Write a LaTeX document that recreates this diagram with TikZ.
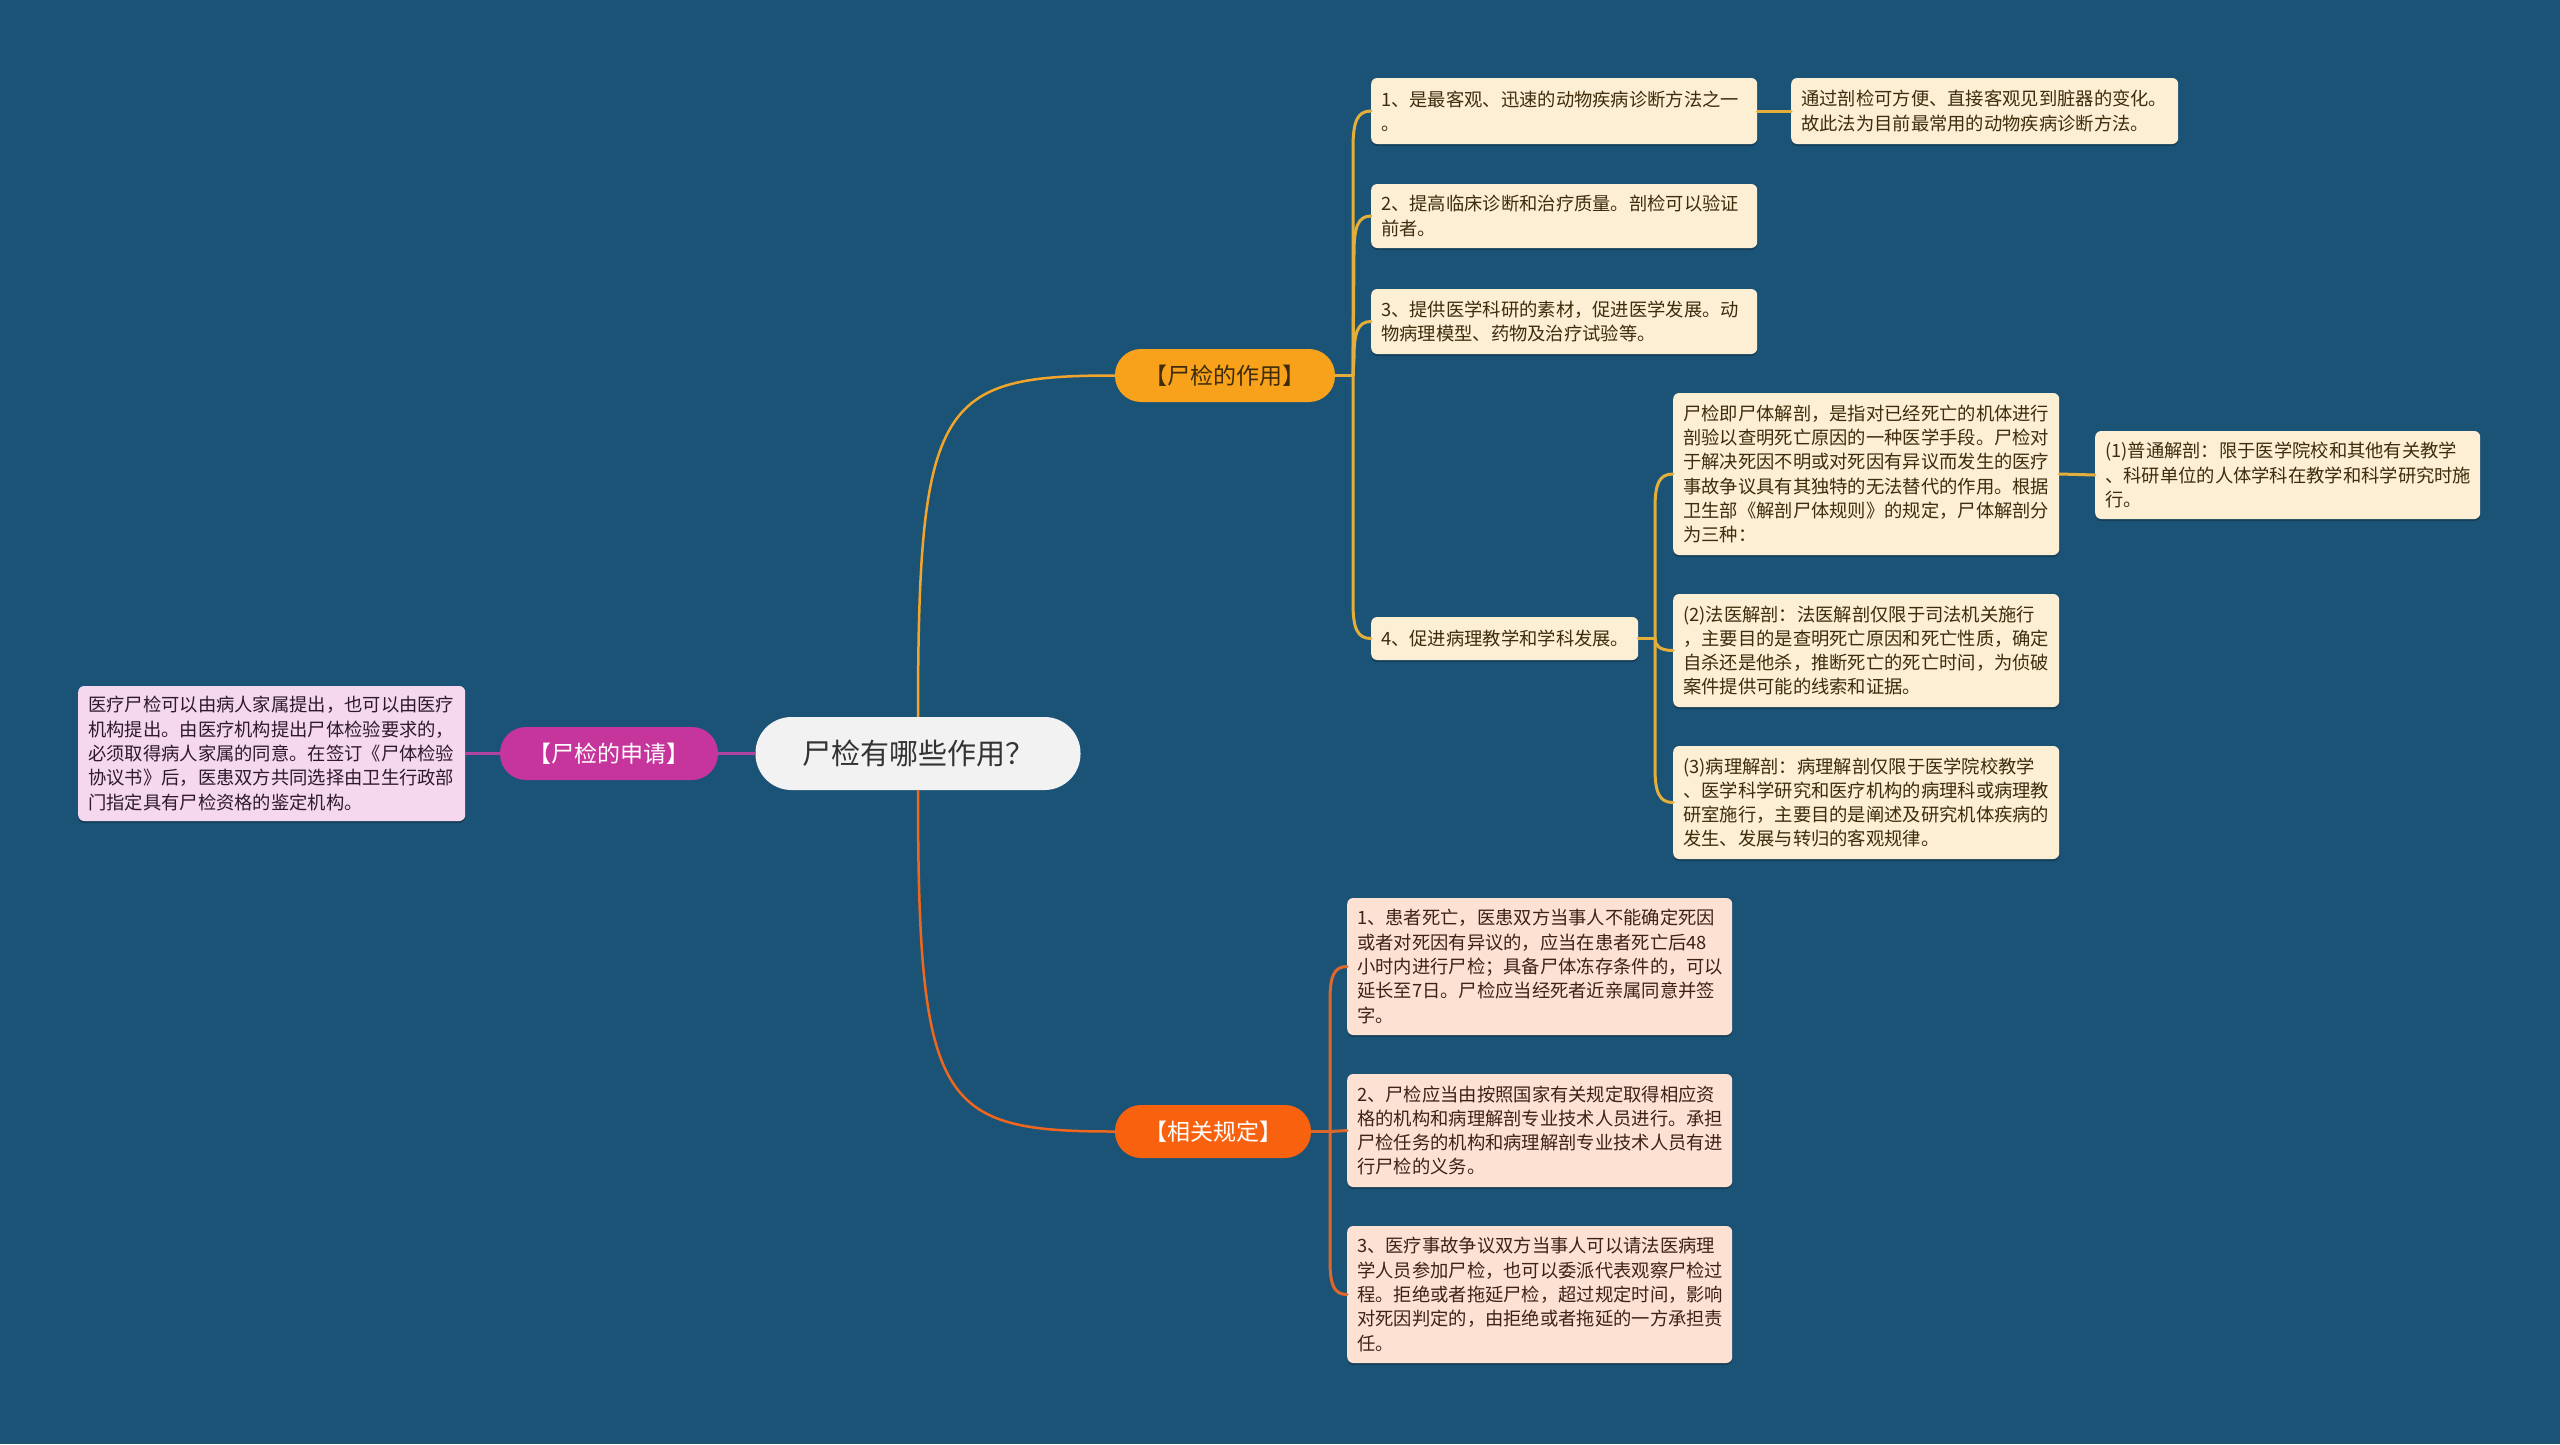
\documentclass[tikz,border=0pt]{standalone}
\usepackage{fontspec}
\setmainfont{Noto Sans CJK SC}
\usetikzlibrary{shadows}
\definecolor{bgc}{HTML}{1B5377}
\definecolor{cnode}{HTML}{F2F2F2}
\definecolor{ctext}{HTML}{333333}
\definecolor{magn}{HTML}{C6359B}
\definecolor{magline}{HTML}{B0439E}
\definecolor{pinkbox}{HTML}{F5D8EE}
\definecolor{pinktext}{HTML}{2E1A2C}
\definecolor{ylwn}{HTML}{F8A21C}
\definecolor{ylwline}{HTML}{E3AF3A}
\definecolor{ylwmain}{HTML}{F2A52A}
\definecolor{cream}{HTML}{FDEFD3}
\definecolor{creamtext}{HTML}{3E2C0C}
\definecolor{orn}{HTML}{F8620F}
\definecolor{ornline}{HTML}{DE672C}
\definecolor{ornmain}{HTML}{F0661C}
\definecolor{peach}{HTML}{FDE1D3}
\definecolor{peachtext}{HTML}{3E2216}
\tikzset{
  boxfont/.style={font=\fontsize{18.3}{24.3}\selectfont},
  cbox/.style={boxfont, rounded corners=6pt, anchor=west, inner xsep=10pt, inner ysep=0pt, align=left,
     drop shadow={shadow xshift=0pt, shadow yshift=-2pt, fill=black, opacity=0.25}},
  creambox/.style={cbox, fill=cream, text=creamtext},
  peachbox/.style={cbox, fill=peach, text=peachtext},
  pinkbx/.style={cbox, fill=pinkbox, text=pinktext},
  topic/.style={rounded corners=26pt, minimum height=53pt, inner sep=0pt, font=\fontsize{23}{28}\selectfont},
  ylw/.style={draw=ylwline, line width=3pt, line cap=round, line join=round},
  orl/.style={draw=ornline, line width=3pt, line cap=round, line join=round},
}
\begin{document}
\begin{tikzpicture}[x=1pt,y=-1pt]
\fill[bgc] (0,0) rectangle (2560,1444);
\useasboundingbox (0,0) rectangle (2560,1444);

% central and main topics
\node[fill=cnode, text=ctext, rounded corners=36pt, minimum width=325pt, minimum height=73pt, inner sep=0pt,
  font=\fontsize{29}{34}\selectfont] (C) at (918,753.5) {尸检有哪些作用？};
\node[topic, fill=magn, text=white, minimum width=218pt] (app) at (609,753.5) {【尸检的申请】};
\node[topic, fill=ylwn, text=creamtext, minimum width=220pt] (role) at (1225,375.5) {【尸检的作用】};
\node[topic, fill=orn, text=white, minimum width=196pt] (reg) at (1213,1131.5) {【相关规定】};

% left box
\node[pinkbx, text width=367pt, minimum height=135pt] (appT) at (78,753.5)
 {医疗尸检可以由病人家属提出，也可以由医疗\\机构提出。由医疗机构提出尸体检验要求的，\\必须取得病人家属的同意。在签订《尸体检验\\协议书》后，医患双方共同选择由卫生行政部\\门指定具有尸检资格的鉴定机构。};

% yellow branch children
\node[creambox, text width=366pt, minimum height=66pt] (y1) at (1371,111)
 {1、是最客观、迅速的动物疾病诊断方法之一\\。};
\node[creambox, text width=367pt, minimum height=66pt] (y1c) at (1791,111)
 {通过剖检可方便、直接客观见到脏器的变化。\\故此法为目前最常用的动物疾病诊断方法。};
\node[creambox, text width=366pt, minimum height=64pt] (y2) at (1371,216)
 {2、提高临床诊断和治疗质量。剖检可以验证\\前者。};
\node[creambox, text width=366pt, minimum height=65pt] (y3) at (1371,321.5)
 {3、提供医学科研的素材，促进医学发展。动\\物病理模型、药物及治疗试验等。};
\node[creambox, text width=247pt, minimum height=43pt] (y4) at (1371,638.5)
 {4、促进病理教学和学科发展。};
\node[creambox, text width=366pt, minimum height=162pt] (ya) at (1673,474)
 {尸检即尸体解剖，是指对已经死亡的机体进行\\剖验以查明死亡原因的一种医学手段。尸检对\\于解决死因不明或对死因有异议而发生的医疗\\事故争议具有其独特的无法替代的作用。根据\\卫生部《解剖尸体规则》的规定，尸体解剖分\\为三种：};
\node[creambox, text width=365pt, minimum height=88pt] (yac) at (2095,475)
 {(1)普通解剖：限于医学院校和其他有关教学\\、科研单位的人体学科在教学和科学研究时施\\行。};
\node[creambox, text width=366pt, minimum height=113pt] (yb) at (1673,650.5)
 {(2)法医解剖：法医解剖仅限于司法机关施行\\，主要目的是查明死亡原因和死亡性质，确定\\自杀还是他杀，推断死亡的死亡时间，为侦破\\案件提供可能的线索和证据。};
\node[creambox, text width=366pt, minimum height=113pt] (yc) at (1673,802.5)
 {(3)病理解剖：病理解剖仅限于医学院校教学\\、医学科学研究和医疗机构的病理科或病理教\\研室施行，主要目的是阐述及研究机体疾病的\\发生、发展与转归的客观规律。};

% orange branch children
\node[peachbox, text width=365pt, minimum height=137pt] (r1) at (1347,966.5)
 {1、患者死亡，医患双方当事人不能确定死因\\或者对死因有异议的，应当在患者死亡后48\\小时内进行尸检；具备尸体冻存条件的，可以\\延长至7日。尸检应当经死者近亲属同意并签\\字。};
\node[peachbox, text width=365pt, minimum height=113pt] (r2) at (1347,1130.5)
 {2、尸检应当由按照国家有关规定取得相应资\\格的机构和病理解剖专业技术人员进行。承担\\尸检任务的机构和病理解剖专业技术人员有进\\行尸检的义务。};
\node[peachbox, text width=365pt, minimum height=137pt] (r3) at (1347,1294.5)
 {3、医疗事故争议双方当事人可以请法医病理\\学人员参加尸检，也可以委派代表观察尸检过\\程。拒绝或者拖延尸检，超过规定时间，影响\\对死因判定的，由拒绝或者拖延的一方承担责\\任。};

% connectors: centre
\draw[draw=ylwmain, line width=2.5pt] (C.north) .. controls (918,400) and (940,375.5) .. (role.west);
\draw[draw=ornmain, line width=2.5pt] (C.south) .. controls (918,1107) and (940,1131.5) .. (reg.west);
\draw[draw=magline, line width=3pt] (C.west) -- (app.east);
\draw[draw=magline, line width=3pt] (app.west) -- (appT.east);

% yellow spine
\coordinate (rs) at (1353,375.5);
\draw[ylw] (role.east) -- (rs);
\draw[ylw] (rs) -- (1353,148) .. controls (1353,122) and (1357,111) .. (y1.west);
\draw[ylw] (rs) -- (1354,253) .. controls (1354,227) and (1358,216) .. (y2.west);
\draw[ylw] (rs) -- (1354,358) .. controls (1354,332) and (1358,321.5) .. (y3.west);
\draw[ylw] (rs) -- (1353,603) .. controls (1353,628) and (1357,638.5) .. (y4.west);
\draw[ylw] (y1.east) -- (y1c.west);

% sub spine of item 4
\coordinate (ys) at (1655,638.5);
\draw[ylw] (y4.east) -- (ys);
\draw[ylw] (ys) -- (1655,508) .. controls (1655,484) and (1659,474) .. (ya.west);
\draw[ylw] (ys) .. controls (1655,645) and (1659,650.5) .. (yb.west);
\draw[ylw] (ys) -- (1655,768) .. controls (1655,792) and (1659,802.5) .. (yc.west);
\draw[ylw] (ya.east) -- (yac.west);

% orange spine
\coordinate (gs) at (1330,1131.5);
\draw[orl] (reg.east) -- (gs);
\draw[orl] (gs) -- (1330,1000) .. controls (1330,976) and (1334,966.5) .. (r1.west);
\draw[orl] (gs) -- (r2.west);
\draw[orl] (gs) -- (1330,1261) .. controls (1330,1285) and (1334,1294.5) .. (r3.west);
\end{tikzpicture}
\end{document}
